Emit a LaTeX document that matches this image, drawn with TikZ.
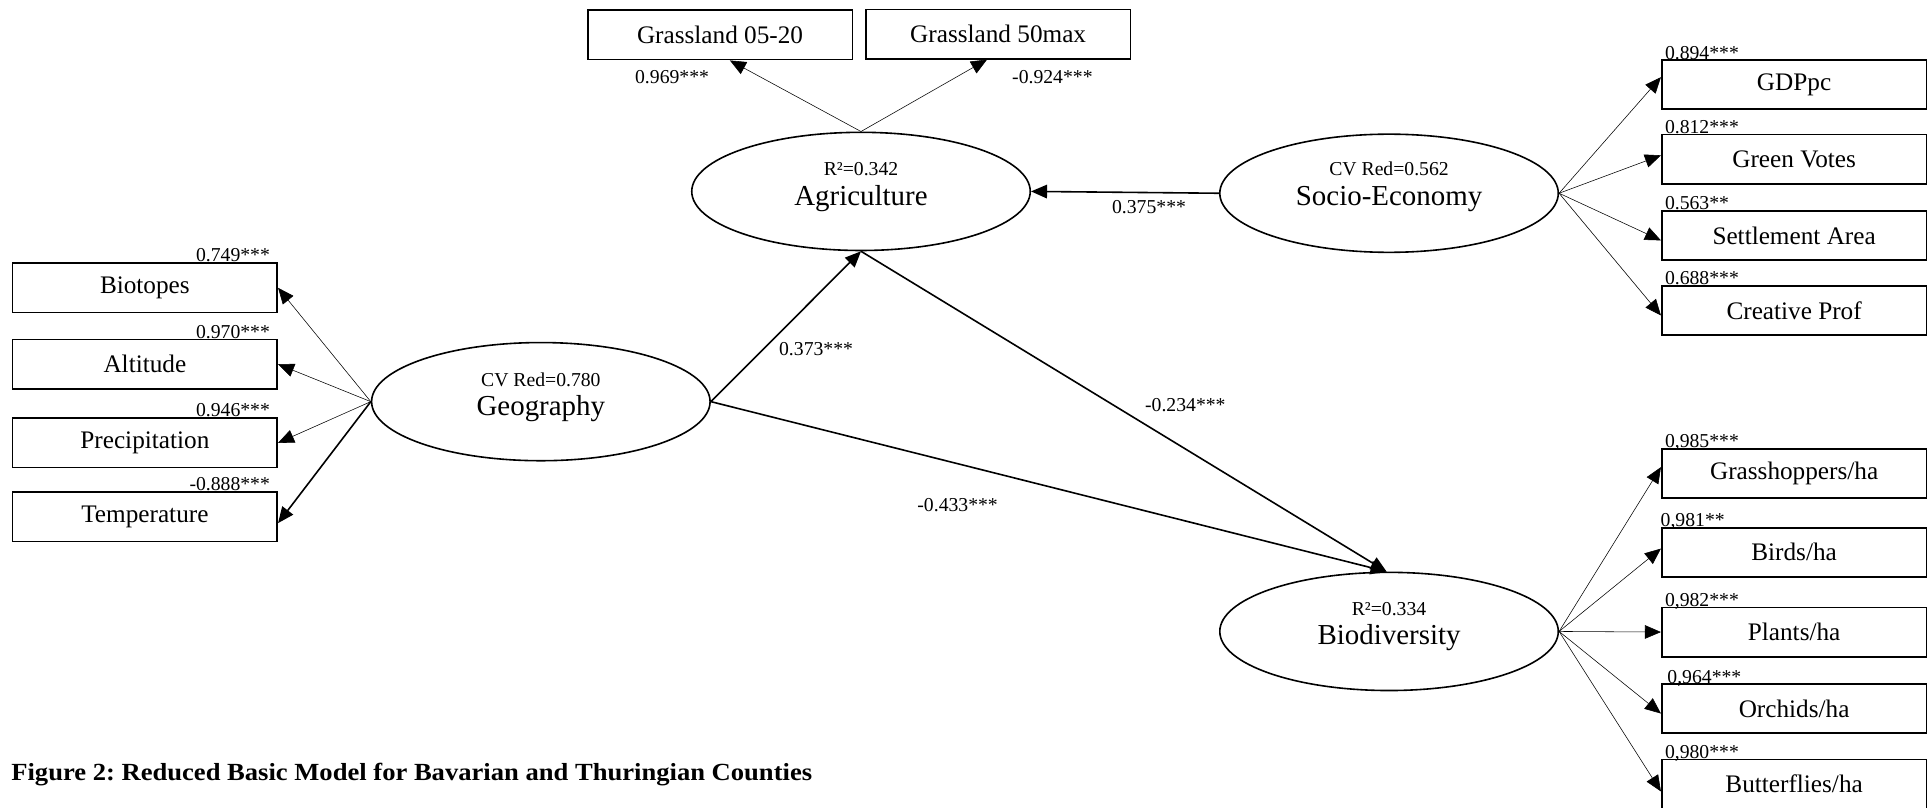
\documentclass[tikz,border=0pt]{standalone}
\usepackage{fontspec}
\setmainfont{Liberation Serif}
\newfontfamily\capfont[FakeStretch=1.08]{Liberation Serif}
\usetikzlibrary{arrows.meta,shapes.geometric,calc}
\begin{document}
\frenchspacing
\begin{tikzpicture}[x=1pt,y=-1pt,
  box/.style={draw, line width=1.4pt, minimum width=215pt, minimum height=40pt, inner sep=0pt, font=\fontsize{20.5}{22}\selectfont},
  lat/.style={draw, ellipse, line width=1.3pt, inner sep=0pt, minimum width=275pt, minimum height=96pt},
  small/.style={inner sep=0pt, font=\fontsize{16}{17}\selectfont},
  latname/.style={inner sep=0pt, font=\fontsize{23.5}{25}\selectfont},
  latsub/.style={inner sep=0pt, font=\fontsize{16}{17}\selectfont},
  load/.style={-{Triangle[length=13pt,width=11pt]}, line width=0.45pt},
  loadthick/.style={-{Triangle[length=13pt,width=11pt]}, line width=1.3pt},
  pth/.style={-{Triangle[length=13pt,width=11pt]}, line width=1.3pt}
]
\useasboundingbox (0,0) rectangle (1568,656);

% latent variables
\node[lat] (geo) at (439.4,326.3) {};
\node[latsub] (geosub) at (439.4,308.2) {CV Red=0.780};
\node[latname] (geoname) at (439.4,331.7) {Geography};

\node[lat] (agri) at (699.5,155.5) {};
\node[latsub] (agrisub) at (699.5,137.5) {R²=0.342};
\node[latname] (agriname) at (699.5,161) {Agriculture};

\node[lat] (soc) at (1128.5,157) {};
\node[latsub] (socsub) at (1128.5,137.5) {CV Red=0.562};
\node[latname] (socname) at (1128.5,161.5) {Socio-Economy};

\node[lat] (bio) at (1128.5,513) {};
\node[latsub] (biosub) at (1128.5,494.8) {R²=0.334};
\node[latname] (bioname) at (1128.5,518) {Biodiversity};

% geography indicators
\node[box] (biot) at (117.7,233.8) {Biotopes};
\node[box] (alt) at (117.7,295.9) {Altitude};
\node[box] (prec) at (117.7,359.8) {Precipitation};
\node[box] (temp) at (117.7,420) {Temperature};
\node[small,anchor=base east] (lbiot) at (219.5,212.5) {0.749***};
\node[small,anchor=base east] (lalt) at (219.5,274.8) {0.970***};
\node[small,anchor=base east] (lprec) at (219.5,338.5) {0.946***};
\node[small,anchor=base east] (ltemp) at (219.5,398.8) {-0.888***};
\draw[load] (geo.west) -- (biot.east);
\draw[load] (geo.west) -- (alt.east);
\draw[load] (geo.west) -- (prec.east);
\draw[loadthick] (geo.west) -- ([yshift=-5pt]temp.east);

% agriculture indicators
\node[box] (g1) at (585,28.4) {Grassland 05-20};
\node[box] (g2) at (810.9,27.7) {Grassland 50max};
\node[small,anchor=base] (lg1) at (546,67.5) {0.969***};
\node[small,anchor=base] (lg2) at (855,67.5) {-0.924***};
\draw[load] (agri.north) -- ([xshift=8pt]g1.south);
\draw[load] (agri.north) -- ([xshift=-9pt]g2.south);

% socio-economy indicators
\node[box] (gdp) at (1457.6,68.7) {GDPpc};
\node[box] (green) at (1457.6,129.2) {Green Votes};
\node[box] (sett) at (1457.6,191.3) {Settlement Area};
\node[box] (crea) at (1457.6,252.3) {Creative Prof};
\node[small,anchor=base west] (lgdp) at (1352.5,48) {0.894***};
\node[small,anchor=base west] (lgreen) at (1352.5,108.5) {0.812***};
\node[small,anchor=base west] (lsett) at (1352.5,170.5) {0.563**};
\node[small,anchor=base west] (lcrea) at (1352.5,231.5) {0.688***};
\draw[load] (soc.east) -- ([yshift=6pt]gdp.west);
\draw[load] (soc.east) -- ([yshift=3pt]green.west);
\draw[load] (soc.east) -- ([yshift=-4pt]sett.west);
\draw[load] (soc.east) -- ([yshift=-4pt]crea.west);

% biodiversity indicators
\node[box] (gh) at (1457.6,384.5) {Grasshoppers/ha};
\node[box] (birds) at (1457.6,448.7) {Birds/ha};
\node[box] (plants) at (1457.6,513.5) {Plants/ha};
\node[box] (orch) at (1457.6,575.7) {Orchids/ha};
\node[box] (butt) at (1457.6,637) {Butterflies/ha};
\node[small,anchor=base west] (lgh) at (1352.5,363.5) {0,985***};
\node[small,anchor=base west] (lbirds) at (1349,428) {0,981**};
\node[small,anchor=base west] (lplants) at (1352.5,492.5) {0,982***};
\node[small,anchor=base west] (lorch) at (1354.5,555) {0,964***};
\node[small,anchor=base west] (lbutt) at (1352.5,616) {0,980***};
\draw[load] (bio.east) -- ([yshift=5pt]gh.west);
\draw[load] (bio.east) -- ([yshift=3pt]birds.west);
\draw[load] (bio.east) -- (plants.west);
\draw[load] (bio.east) -- ([yshift=-4pt]orch.west);
\draw[load] (bio.east) -- ([yshift=-6pt]butt.west);

% structural paths
\draw[pth] (soc.west) -- (agri.east);
\draw[pth] (geo.east) -- (agri.south);
\draw[pth] (agri.south) -- ([xshift=-2pt]bio.north);
\draw[pth] (geo.east) -- ([xshift=-2pt]bio.north);
\node[small] (p1) at (933.5,168) {0.375***};
\node[small] (p2) at (663,284) {0.373***};
\node[small] (p3) at (963,329) {-0.234***};
\node[small] (p4) at (778,410) {-0.433***};

% caption
\node[inner sep=0pt, anchor=base west, font=\capfont\bfseries\fontsize{20}{22}\selectfont] (cap) at (9,634.2) {Figure 2: Reduced Basic Model for Bavarian and Thuringian Counties};
\end{tikzpicture}
\end{document}
